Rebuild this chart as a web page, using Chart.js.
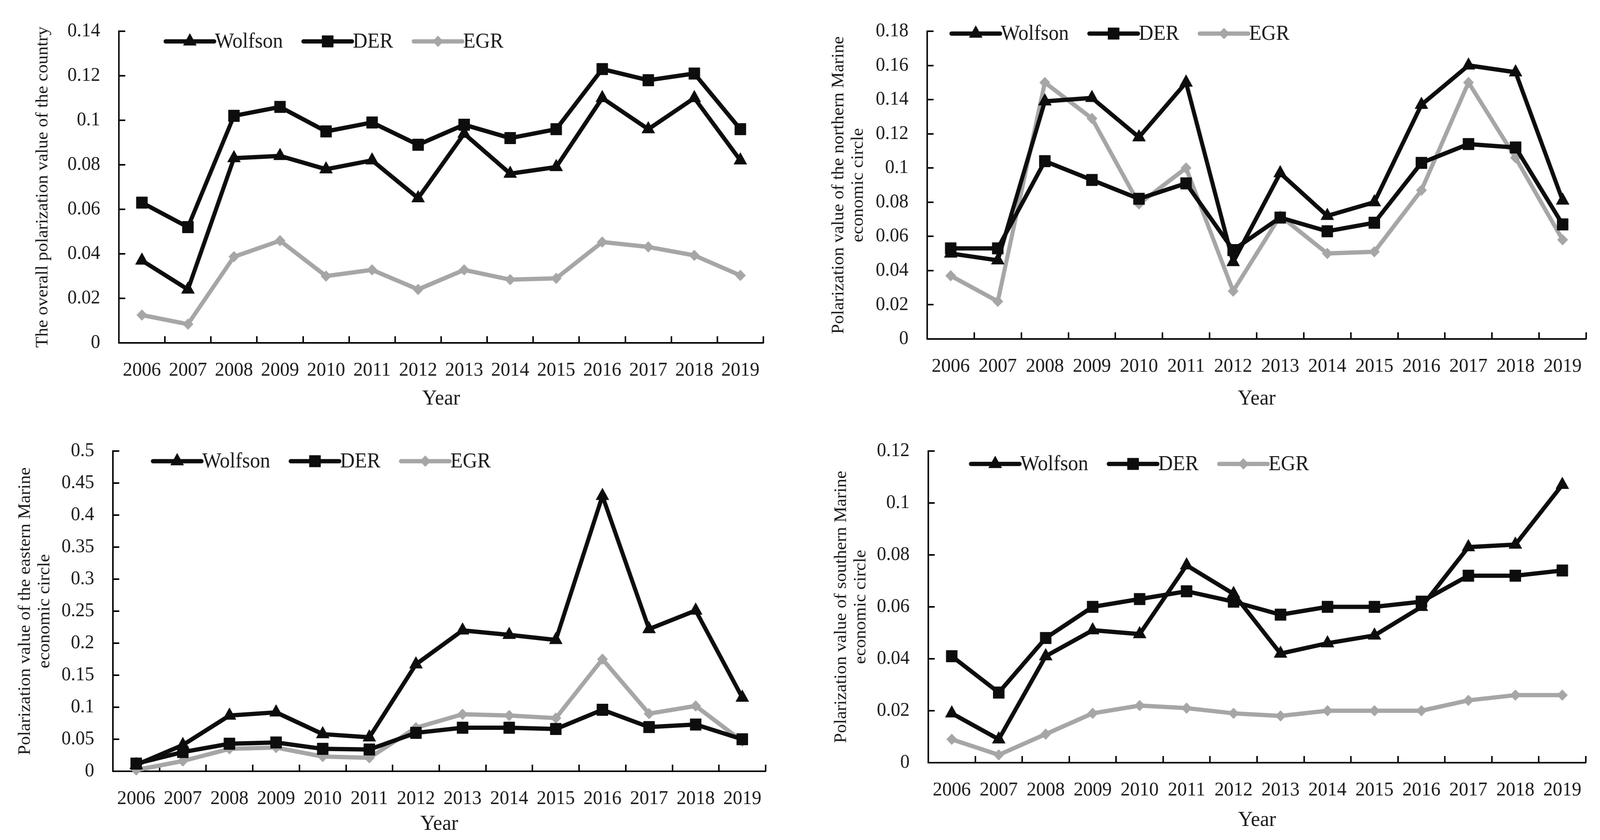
<!DOCTYPE html>
<html>
<head>
<meta charset="utf-8">
<script src="https://cdn.jsdelivr.net/npm/chart.js@4.4.1/dist/chart.umd.min.js"></script>
<style>
  html, body { margin: 0; padding: 0; background: #ffffff; overflow: hidden; }
  canvas { position: absolute; }
</style>
</head>
<body>
<canvas id="c1"></canvas>
<canvas id="c2"></canvas>
<canvas id="c3"></canvas>
<canvas id="c4"></canvas>
<script>
// ---------- DATA ----------
const years = ['2006','2007','2008','2009','2010','2011','2012','2013','2014','2015','2016','2017','2018','2019'];
const seriesNames = ['Wolfson', 'DER', 'EGR'];

// Overall (country)
const countryWolfson = [0.037,0.024,0.083,0.084,0.078,0.082,0.065,0.094,0.076,0.079,0.110,0.096,0.110,0.082];
const countryDER     = [0.063,0.052,0.102,0.106,0.095,0.099,0.089,0.098,0.092,0.096,0.123,0.118,0.121,0.096];
const countryEGR     = [0.0125,0.0084,0.0387,0.0459,0.030,0.0328,0.024,0.0328,0.0284,0.029,0.0453,0.0431,0.0393,0.0303];

// Northern marine economic circle
const northWolfson = [0.050,0.046,0.139,0.141,0.118,0.150,0.045,0.097,0.072,0.080,0.137,0.160,0.156,0.081];
const northDER     = [0.053,0.053,0.104,0.093,0.082,0.091,0.052,0.071,0.063,0.068,0.103,0.114,0.112,0.067];
const northEGR     = [0.037,0.022,0.150,0.129,0.079,0.100,0.028,0.072,0.050,0.051,0.087,0.150,0.106,0.058];

// Eastern marine economic circle
const eastWolfson = [0.010,0.041,0.087,0.092,0.058,0.053,0.167,0.220,0.213,0.205,0.430,0.222,0.251,0.115];
const eastDER     = [0.012,0.030,0.043,0.045,0.035,0.034,0.060,0.068,0.068,0.066,0.096,0.069,0.073,0.050];
const eastEGR     = [0.002,0.016,0.035,0.037,0.023,0.021,0.068,0.089,0.087,0.083,0.175,0.090,0.102,0.047];

// Southern marine economic circle
const southWolfson = [0.019,0.009,0.041,0.051,0.0495,0.076,0.065,0.042,0.046,0.049,0.060,0.083,0.084,0.107];
const southDER     = [0.041,0.027,0.048,0.060,0.063,0.066,0.062,0.057,0.060,0.060,0.062,0.072,0.072,0.074];
const southEGR     = [0.009,0.003,0.011,0.019,0.022,0.021,0.019,0.018,0.020,0.020,0.020,0.024,0.026,0.026];

// Axis ranges and titles
const yMax   = [0.14, 0.18, 0.5, 0.12];
const yStep  = [0.02, 0.02, 0.05, 0.02];
const yTitles = [
  'The overall polarization value of the country',
  ['Polarization value of the northern Marine', 'economic circle'],
  ['Polarization value of the eastern Marine', 'economic circle'],
  ['Polarization value of southern Marine', 'economic circle']
];
const xTitle = 'Year';

// ---------- STYLE / LAYOUT ----------
const PAGE_W = 4279, PAGE_H = 2151;
const FONT = '"Liberation Serif", "Times New Roman", serif';
const TEXT = '#1a1a1a';
const BLACK = '#0d0d0d';
const GREY = '#a6a6a6';

const seriesStyle = [
  { color: BLACK, pointStyle: 'triangle', radius: 20 },
  { color: BLACK, pointStyle: 'rect', radius: 21 },
  { color: GREY, pointStyle: 'rectRot', radius: 14 }
];

const panels = [
  { id: 'c1', x: 0,    y: 0,    w: 2140, h: 1075, area: { left: 318, right: 2042, top: 55, bottom: 878 }, yTitlePad: 89, xTitlePad: 20, legend: { x: 443, y: 106 }, values: [countryWolfson, countryDER, countryEGR] },
  { id: 'c2', x: 2140, y: 0,    w: 2139, h: 1075, area: { left: 340, right: 2102, top: 53, bottom: 868 }, yTitlePad: 78, xTitlePad: 20, legend: { x: 405, y: 86 }, values: [northWolfson, northDER, northEGR] },
  { id: 'c3', x: 0,    y: 1075, w: 2140, h: 1076, area: { left: 302, right: 2048, top: 65, bottom: 900 }, yTitlePad: 42, xTitlePad: 7, legend: { x: 409, y: 106 }, values: [eastWolfson, eastDER, eastEGR] },
  { id: 'c4', x: 2140, y: 1075, w: 2139, h: 1076, area: { left: 343, right: 2101, top: 69, bottom: 878 }, yTitlePad: 85, xTitlePad: 17, legend: { x: 457, y: 113 }, values: [southWolfson, southDER, southEGR] }
];

// fit the 4279x2151 layout into the actual viewport
const sx = (window.innerWidth || PAGE_W) / PAGE_W;
const sy = (window.innerHeight || PAGE_H) / PAGE_H;

// ---------- PLUGINS ----------
function drawMarker(ctx, style, x, y, r, color) {
  ctx.save();
  ctx.fillStyle = color;
  ctx.strokeStyle = color;
  ctx.lineWidth = 1;
  ctx.beginPath();
  if (style === 'triangle') {
    for (let k = 0; k < 3; k++) {
      const a = -Math.PI / 2 + k * 2 * Math.PI / 3;
      const px = x + Math.cos(a) * r, py = y + Math.sin(a) * r;
      if (k === 0) ctx.moveTo(px, py); else ctx.lineTo(px, py);
    }
    ctx.closePath();
  } else if (style === 'rect') {
    const s = r * Math.SQRT1_2;
    ctx.rect(x - s, y - s, 2 * s, 2 * s);
  } else {
    ctx.moveTo(x, y - r); ctx.lineTo(x + r, y); ctx.lineTo(x, y + r); ctx.lineTo(x - r, y); ctx.closePath();
  }
  ctx.fill();
  ctx.stroke();
  ctx.restore();
}

const inwardTicks = {
  id: 'inwardTicks',
  beforeDatasetsDraw(chart) {
    const { ctx, chartArea: a, scales: { x, y } } = chart;
    ctx.save();
    ctx.strokeStyle = '#000';
    ctx.lineWidth = 4;
    ctx.beginPath();
    y.ticks.forEach(t => {
      const py = Math.round(y.getPixelForValue(t.value));
      ctx.moveTo(a.left, py);
      ctx.lineTo(a.left + 17, py);
    });
    const n = chart.data.labels.length;
    for (let i = 0; i <= n; i++) {
      const px = Math.round(x.getPixelForValue(i - 0.5));
      ctx.moveTo(px, a.bottom);
      ctx.lineTo(px, a.bottom - 17);
    }
    ctx.stroke();
    ctx.restore();
  }
};

const lineLegend = {
  id: 'lineLegend',
  afterDatasetsDraw(chart, args, opts) {
    const ctx = chart.ctx;
    let x = opts.x;
    const y = opts.y;
    ctx.save();
    ctx.font = opts.size + 'px ' + FONT;
    ctx.textBaseline = 'middle';
    ctx.textAlign = 'left';
    chart.data.datasets.forEach(ds => {
      ctx.strokeStyle = ds.borderColor;
      ctx.lineWidth = ds.borderWidth;
      ctx.lineCap = 'round';
      ctx.beginPath();
      ctx.moveTo(x, y);
      ctx.lineTo(x + opts.sample, y);
      ctx.stroke();
      drawMarker(ctx, ds.pointStyle, x + opts.sample / 2, y, ds.pointRadius, ds.pointBackgroundColor);
      x += opts.sample + 2;
      ctx.fillStyle = TEXT;
      ctx.fillText(ds.label, x, y + 2);
      x += ctx.measureText(ds.label).width + opts.gap;
    });
    ctx.restore();
  }
};

// ---------- CHARTS ----------
panels.forEach((p, idx) => {
  const cv = document.getElementById(p.id);
  cv.width = p.w;
  cv.height = p.h;
  cv.style.left = (p.x * sx) + 'px';
  cv.style.top = (p.y * sy) + 'px';
  cv.style.width = (p.w * sx) + 'px';
  cv.style.height = (p.h * sy) + 'px';

  const datasets = p.values.map((vals, k) => ({
    label: seriesNames[k],
    data: vals,
    borderColor: seriesStyle[k].color,
    backgroundColor: seriesStyle[k].color,
    borderWidth: 11,
    borderCapStyle: 'round',
    borderJoinStyle: 'round',
    pointStyle: seriesStyle[k].pointStyle,
    pointRadius: seriesStyle[k].radius,
    pointBackgroundColor: seriesStyle[k].color,
    pointBorderColor: seriesStyle[k].color,
    pointBorderWidth: 1,
    tension: 0,
    clip: false
  }));
  datasets[0].order = 1; datasets[1].order = 0; datasets[2].order = 2;

  new Chart(cv, {
    type: 'line',
    data: { labels: years, datasets },
    plugins: [inwardTicks, lineLegend],
    options: {
      responsive: false,
      animation: false,
      devicePixelRatio: 1,
      layout: { padding: { left: 0, top: p.area.top, right: p.w - p.area.right, bottom: 0 } },
      plugins: {
        legend: { display: false },
        tooltip: { enabled: false },
        title: { display: false },
        lineLegend: { x: p.legend.x, y: p.legend.y, size: 54, sample: 130, gap: 55 }
      },
      scales: {
        x: {
          type: 'category',
          offset: true,
          grid: { display: false, drawTicks: false, offset: true },
          border: { display: true, color: '#000', width: 4 },
          ticks: { color: TEXT, font: { family: FONT, size: 51 }, padding: 40, maxRotation: 0, minRotation: 0, autoSkip: false },
          title: { display: true, text: xTitle, color: TEXT, font: { family: FONT, size: 55, lineHeight: 1.2 }, padding: { top: 0, bottom: p.xTitlePad } },
          afterFit: s => { s.height = p.h - p.area.bottom; }
        },
        y: {
          min: 0,
          max: yMax[idx],
          grid: { display: false, drawTicks: false },
          border: { display: true, color: '#000', width: 4 },
          ticks: {
            stepSize: yStep[idx],
            color: TEXT,
            font: { family: FONT, size: 50 },
            padding: 50,
            callback: v => String(parseFloat(Number(v).toFixed(4)))
          },
          title: { display: true, text: yTitles[idx], color: TEXT, font: { family: FONT, size: 46, lineHeight: 1.13 }, padding: { top: p.yTitlePad, bottom: 0 } },
          afterFit: s => { s.width = p.area.left; }
        }
      }
    }
  });
});
</script>
</body>
</html>
